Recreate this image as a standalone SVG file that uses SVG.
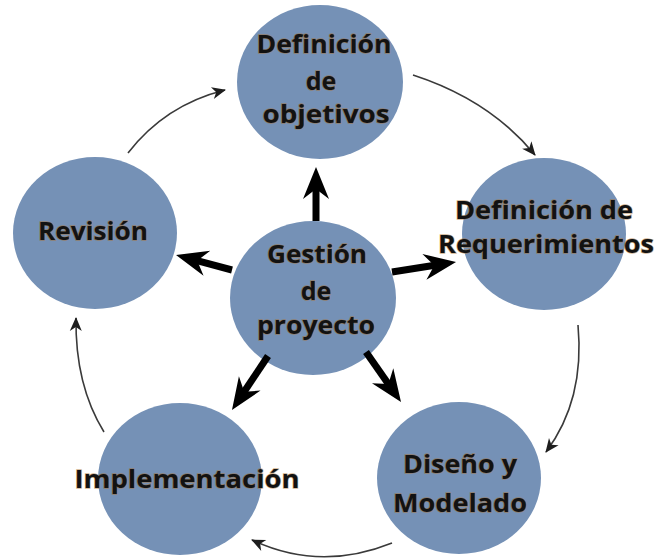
<svg xmlns="http://www.w3.org/2000/svg" width="655" height="559" viewBox="0 0 655 559">
  <style>
    .node { fill: #7591b6; }
    .lbl { font-family: "Open Sans", "Liberation Sans", sans-serif; font-weight: bold; font-size: 25px; fill: #121212; text-anchor: middle; stroke: #a8702e; stroke-width: 1.3; stroke-opacity: 0.55; paint-order: stroke; }
    .thin { fill: none; stroke: #3a3a3a; stroke-width: 1.6; marker-end: url(#thinHead); }
    .thick { fill: none; stroke: #000; stroke-width: 7; marker-end: url(#thickHead); }
  </style>
  <defs>
    <marker id="thinHead" markerUnits="userSpaceOnUse" viewBox="-14 -7 16 14" refX="0" refY="0" markerWidth="16" markerHeight="14" orient="auto">
      <path d="M1,0 L-13,-6 L-9,0 L-13,6 Z" fill="#1e1e1e"/>
    </marker>
    <marker id="thickHead" markerUnits="userSpaceOnUse" viewBox="-18 -14 36 28" refX="0" refY="0" markerWidth="36" markerHeight="28" orient="auto">
      <path d="M15,0 L-17,-13 L-7,0 L-17,13 Z" fill="#000"/>
    </marker>
  </defs>

  <rect width="655" height="559" fill="#ffffff"/>

  <g id="node-objetivos">
    <ellipse class="node" cx="320" cy="82" rx="83" ry="77"/>
    <text class="lbl" x="324" y="53" textLength="135" lengthAdjust="spacingAndGlyphs">Definición</text>
    <text class="lbl" x="321" y="90">de</text>
    <text class="lbl" x="326" y="123" textLength="127" lengthAdjust="spacingAndGlyphs">objetivos</text>
  </g>

  <g id="node-gestion">
    <ellipse class="node" cx="313" cy="298" rx="83" ry="77"/>
    <text class="lbl" x="317" y="263" textLength="100" lengthAdjust="spacingAndGlyphs">Gestión</text>
    <text class="lbl" x="316" y="300">de</text>
    <text class="lbl" x="316" y="334" textLength="118" lengthAdjust="spacingAndGlyphs">proyecto</text>
  </g>

  <g id="node-requerimientos">
    <ellipse class="node" cx="544" cy="234" rx="82" ry="76"/>
    <text class="lbl" x="544" y="219" textLength="178" lengthAdjust="spacingAndGlyphs">Definición de</text>
    <text class="lbl" x="546" y="253" textLength="216" lengthAdjust="spacingAndGlyphs">Requerimientos</text>
  </g>

  <g id="node-revision">
    <ellipse class="node" cx="95" cy="233" rx="82" ry="76"/>
    <text class="lbl" x="93" y="240" textLength="110" lengthAdjust="spacingAndGlyphs">Revisión</text>
  </g>

  <g id="node-implementacion">
    <ellipse class="node" cx="180" cy="479" rx="82" ry="76"/>
    <text class="lbl" x="187" y="488" textLength="225" lengthAdjust="spacingAndGlyphs">Implementación</text>
  </g>

  <g id="node-diseno">
    <ellipse class="node" cx="459" cy="478" rx="82" ry="76"/>
    <text class="lbl" x="460" y="473" textLength="114" lengthAdjust="spacingAndGlyphs">Diseño y</text>
    <text class="lbl" x="460" y="512" textLength="134" lengthAdjust="spacingAndGlyphs">Modelado</text>
  </g>

  <g id="connectors">
    <path class="thin" d="M128,153 Q165,105 225,90"/>
    <path class="thin" d="M413,75 Q490,100 535,155"/>
    <path class="thin" d="M578,325 Q585,400 546,452"/>
    <path class="thin" d="M392,543 Q320,572 252,540"/>
    <path class="thin" d="M104,432 Q75,385 76,318"/>

    <path class="thick" d="M316,221 L316,182"/>
    <path class="thick" d="M392,272 L441.2,264.3"/>
    <path class="thick" d="M232,270 L190.5,258.9"/>
    <path class="thick" d="M268,356 L240.3,397.5"/>
    <path class="thick" d="M366,352 L392.4,389.7"/>
  </g>
</svg>
